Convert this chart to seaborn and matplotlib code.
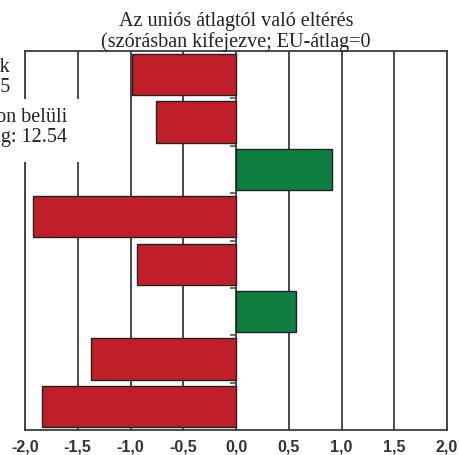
import numpy as np
import pandas as pd
import matplotlib
matplotlib.use("Agg")
import matplotlib.pyplot as plt
from matplotlib.patches import Rectangle
import seaborn as sns

# data (deviation from EU mean, in std units)
categories = ["1", "2", "3", "4", "5", "6", "7", "8"]
values = [-0.99, -0.76, 0.91, -1.92, -0.94, 0.57, -1.37, -1.84]
tick_values = [-2.0, -1.5, -1.0, -0.5, 0.0, 0.5, 1.0, 1.5, 2.0]
tick_labels = ["-2,0", "-1,5", "-1,0", "-0,5", "0,0", "0,5", "1,0", "1,5", "2,0"]
title = "Az uniós átlagtól való eltérés\n(szórásban kifejezve; EU-átlag=0"
side_notes = ["Uniós mutatók\nátlag: 11.45", "Országon belüli\nátlag: 12.54"]

RED = "#c11f27"
GREEN = "#0e7f3f"

sns.set_theme(style="white")
plt.rcParams["font.family"] = ["Liberation Serif", "DejaVu Serif"]

df = pd.DataFrame({"cat": categories, "val": values})
df["sign"] = np.where(df["val"] < 0, "neg", "pos")

fig = plt.figure(figsize=(4.59, 4.56), dpi=100)
ax = fig.add_axes([25 / 459, 25 / 456, 422 / 459, 379 / 456])

sns.barplot(data=df, x="val", y="cat", hue="sign", orient="h",
            palette={"neg": RED, "pos": GREEN}, dodge=False, legend=False,
            width=0.87, edgecolor="#222222", linewidth=1.0, saturation=1,
            ax=ax)

ax.set_xlim(-2.0, 2.0)
ax.set_ylim(len(categories) - 0.5, -0.5)
ax.set_xticks(tick_values)
ax.set_xticklabels(tick_labels, fontfamily="Liberation Sans", fontsize=11.5,
                   fontweight="bold", color="#333333")
ax.tick_params(axis="x", length=0, pad=6)
ax.set_yticks([])
ax.set_xlabel("")
ax.set_ylabel("")
ax.set_axisbelow(True)
ax.grid(axis="x", color="#3c3c3c", linewidth=1.3)
ax.grid(axis="y", visible=False)
for sp in ax.spines.values():
    sp.set_color("#3c3c3c")
    sp.set_linewidth(1.3)

# small marks on the zero line between the bars
sec = ax.secondary_yaxis(0.5)
sec.spines["right"].set_visible(False)
sec.spines["left"].set_visible(False)
sec.set_yticks(np.arange(len(categories) - 1) + 0.5)
sec.set_yticklabels([])
sec.tick_params(axis="y", length=4, width=1.2, color="#555555", direction="in")

ax.set_title(title, fontsize=14.5, color="#222222", pad=0, linespacing=1.05)

# notes cut off at the left edge of the picture
fig.add_artist(Rectangle((0, 1 - 163 / 456), 105 / 459, 63 / 456,
                         transform=fig.transFigure, facecolor="white",
                         edgecolor="none", zorder=3))
fig.text(10 / 459, 1 - 92 / 456, side_notes[0], ha="right", va="baseline",
         fontsize=14.5, color="#222222", linespacing=1.1, zorder=4)
fig.text(67 / 459, 1 - 142 / 456, side_notes[1], ha="right", va="baseline",
         fontsize=14.5, color="#222222", linespacing=1.1, zorder=4)

fig.savefig("out.png", dpi=100)
